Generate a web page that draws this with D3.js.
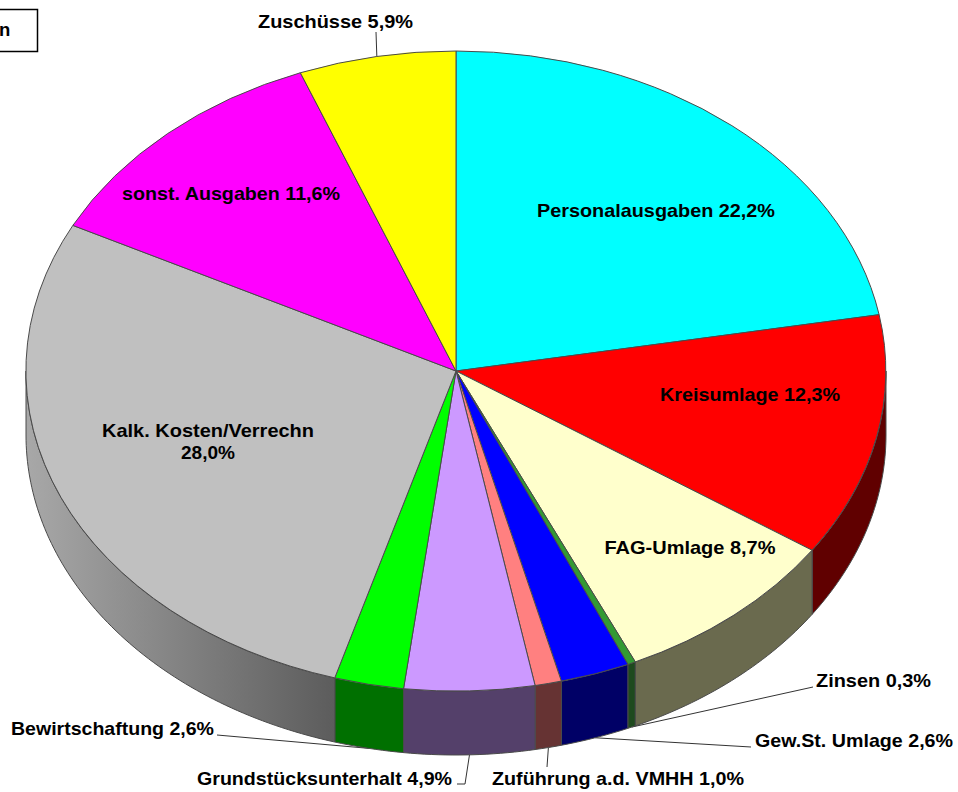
<!DOCTYPE html>
<html><head><meta charset="utf-8">
<script src="https://cdn.jsdelivr.net/npm/d3@7"></script>
<style>html,body{margin:0;padding:0;background:#fff}svg{display:block}
text{font-family:"Liberation Sans",Arial,sans-serif;font-weight:bold;font-size:18.5px;fill:#000}</style>
</head><body><svg id="c" width="958" height="792"></svg>
<script>
const categories = ["Personalausgaben","Kreisumlage","FAG-Umlage","Zinsen","Gew.St. Umlage","Zuführung a.d. VMHH","Grundstücksunterhalt","Bewirtschaftung","Kalk. Kosten/Verrechn","sonst. Ausgaben","Zuschüsse"];
const values = [22.2,12.3,8.7,0.3,2.6,1.0,4.9,2.6,28.0,11.6,5.9];
const topColors = ["#00FFFF","#FF0000","#FFFFCC","#339933","#0000FF","#FF8080","#CC99FF","#00FF00","#C0C0C0","#FF00FF","#FFFF00"];
const wallColors = ["#006666","#600000","#6A6A4E","#1E4A1E","#000066","#663333","#54406A","#007000","url(#greyWall)","#660066","#666600"];
// label placement: category index, anchor, x, baseline y, width, leader points
const labelLayout = [
 {i:0,a:"middle",x:656,y:217,w:238},
 {i:1,a:"middle",x:750,y:401,w:180},
 {i:2,a:"middle",x:690,y:554,w:171},
 {i:3,a:"start",x:816,y:687,w:115,leader:[[813,687]]},
 {i:4,a:"start",x:755,y:747,w:198,leader:[[751,747]]},
 {i:5,a:"start",x:492,y:785,w:252,leader:[[547,767]]},
 {i:6,a:"start",x:197,y:785,w:255,leader:[[457,784],[465,784]]},
 {i:7,a:"start",x:11,y:735,w:203,leader:[[217,735]]},
 {i:8,a:"middle",x:208,y:437,w:212,twoLine:true,w2:54},
 {i:9,a:"middle",x:231,y:200,w:218},
 {i:10,a:"start",x:258,y:28,w:155,leader:[[376,32]]}
];
const svg = d3.select("#c");
const cx=456, cy=371, rx=430, ry=320, depth=64;
const sx = d3.scaleLinear().domain([-1,1]).range([cx-rx,cx+rx]);
const sy = d3.scaleLinear().domain([-1,1]).range([cy-ry,cy+ry]);
const pt = (a,dz=0)=>[sx(Math.sin(a)), sy(-Math.cos(a))+dz];
const arcs = d3.pie().sort(null).value(d=>d)(values);
const outline="#4a4a4a";

const grad = svg.append("defs").append("linearGradient").attr("id","greyWall")
 .attr("gradientUnits","userSpaceOnUse").attr("x1",26).attr("x2",336).attr("y1",0).attr("y2",0);
grad.append("stop").attr("offset",0).attr("stop-color","#A8A8A8");
grad.append("stop").attr("offset",0.5).attr("stop-color","#828282");
grad.append("stop").attr("offset",1).attr("stop-color","#5C5C5C");

// leaders (beneath the pie, running to the middle of each slice's rim)
labelLayout.filter(l=>l.leader).forEach(l=>{
  const d=arcs[l.i], m=(d.startAngle+d.endAngle)/2;
  const wall=Math.cos(m)<0?depth:0;
  svg.append("path").attr("fill","none").attr("stroke","#333").attr("stroke-width",1)
   .attr("d",d3.line()([...l.leader,pt(m,wall)]));
});

// walls
const line=d3.line();
arcs.forEach((d,k)=>{
  const a0=Math.max(d.startAngle,Math.PI/2), a1=Math.min(d.endAngle,Math.PI*1.5);
  if(a1<=a0) return;
  const n=Math.max(2,Math.ceil((a1-a0)*60));
  const as=d3.range(n+1).map(j=>a0+(a1-a0)*j/n);
  const p=[...as.map(a=>pt(a)),...as.slice().reverse().map(a=>pt(a,depth))];
  svg.append("path").attr("d",line(p)+"Z").attr("fill",wallColors[k]).attr("stroke",outline).attr("stroke-width",1);
});
// top face
const arcGen=d3.arc().innerRadius(0).outerRadius(1);
const pieTop=svg.append("g").attr("transform",`translate(${cx},${cy}) scale(${rx},${ry})`);
pieTop.selectAll("path").data(arcs).join("path")
 .attr("d",arcGen).attr("fill",(d,k)=>topColors[k])
 .attr("stroke",outline).attr("stroke-width",1).attr("vector-effect","non-scaling-stroke");

// labels
labelLayout.forEach(l=>{
  const name=categories[l.i], val=values[l.i].toFixed(1).replace(".",",")+"%";
  const put=(s,anchor,y,w)=>svg.append("text").attr("text-anchor",anchor).attr("x",l.x).attr("y",y)
    .attr("textLength",w).attr("lengthAdjust","spacingAndGlyphs").text(s);
  if(l.twoLine){ put(name,"middle",l.y,l.w); put(val,"middle",l.y+22,l.w2); }
  else put(name+" "+val,l.a,l.y,l.w);
});
// clipped title box
svg.append("rect").attr("x",-5).attr("y",9.5).attr("width",42.5).attr("height",42).attr("fill","#fff").attr("stroke","#000").attr("stroke-width",1.5);
svg.append("text").attr("x",-1).attr("y",36).text("n");
</script></body></html>
